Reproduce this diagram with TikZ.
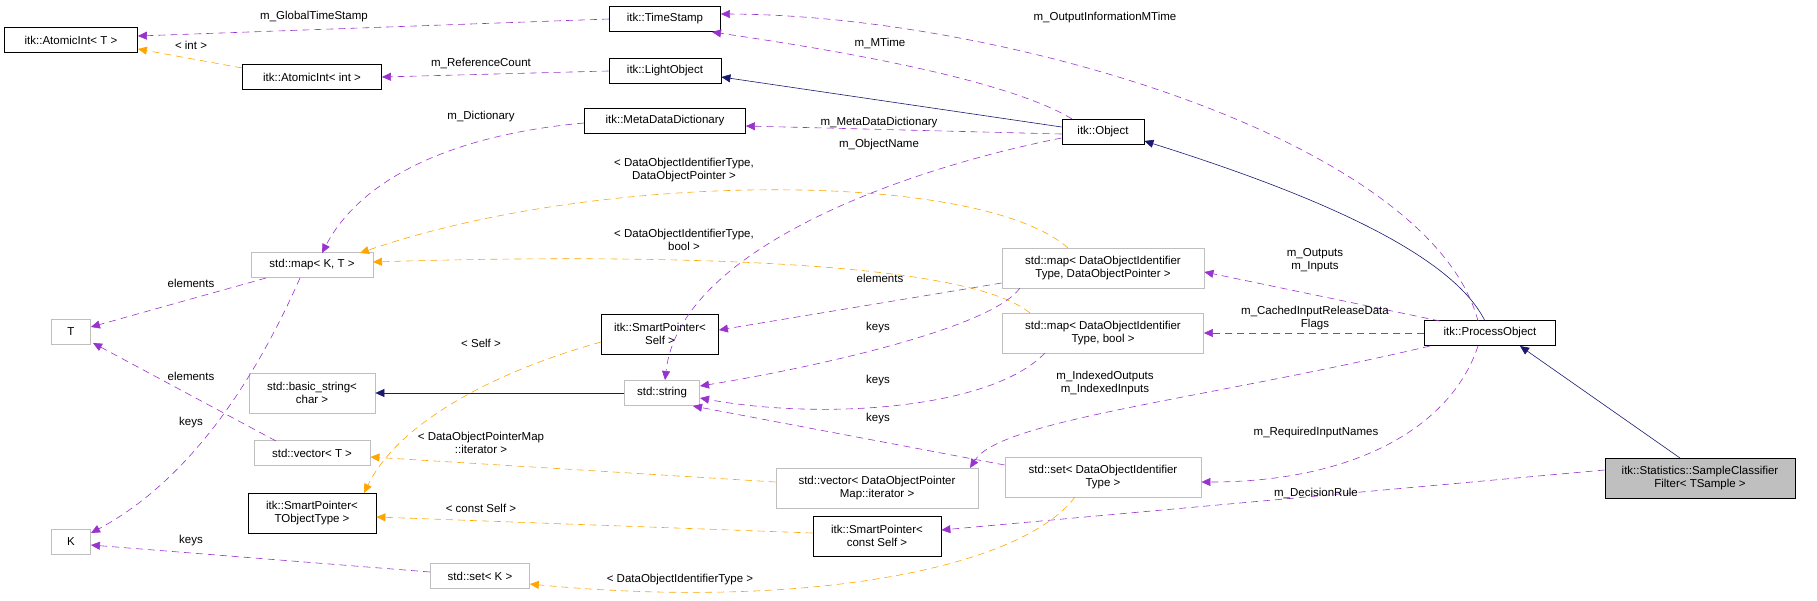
\documentclass[tikz,border=0pt]{standalone}
\usepackage{fontspec}
\setmainfont{Liberation Sans}
\usetikzlibrary{arrows.meta}
\definecolor{pur}{HTML}{9A32CD}
\definecolor{org}{HTML}{FFA500}
\definecolor{nav}{HTML}{191970}
\definecolor{gbd}{HTML}{BFBFBF}
\begin{document}
\begin{tikzpicture}[x=1pt,y=-1pt,
  every node/.style={font=\fontsize{11.5}{13}\selectfont},
  cls/.style={draw=black,thick,inner sep=2pt,align=center,minimum height=25},
  gcls/.style={draw=gbd,thick,inner sep=2pt,align=center,minimum height=25},
  lbl/.style={align=center,inner sep=0pt},
  tip/.style={-{Triangle[length=9pt,width=8pt]}},
  use/.style={tip,draw=pur,fill=none,dash pattern=on 7pt off 5pt,semithick,arrows={-{Triangle[length=9pt,width=8pt,fill=pur]}}},
  tmpl/.style={tip,draw=org,dash pattern=on 7pt off 5pt,semithick,arrows={-{Triangle[length=9pt,width=8pt,fill=org]}}},
  inh/.style={tip,draw=nav,semithick,arrows={-{Triangle[length=9pt,width=8pt,fill=nav]}}}]
\useasboundingbox (0,0) rectangle (1817,600);
% nodes
\node[cls,minimum width=133] (ait) at (71,40) {itk::AtomicInt< T >};
\node[cls,minimum width=139] (aii) at (312,77) {itk::AtomicInt< int >};
\node[cls,minimum width=111] (ts) at (665,19) {itk::TimeStamp};
\node[cls,minimum width=112] (lo) at (665,71) {itk::LightObject};
\node[cls,minimum width=161] (mdd) at (665,121) {itk::MetaDataDictionary};
\node[gcls,minimum width=122] (mkt) at (312,265) {std::map< K, T >};
\node[gcls,minimum width=39] (t) at (71,332) {T};
\node[cls,minimum width=117,minimum height=40] (sps) at (660,334) {itk::SmartPointer<\\Self >};
\node[gcls,minimum width=126,minimum height=40] (bs) at (312,393) {std::basic\_string<\\char >};
\node[gcls,minimum width=75] (str) at (662,393) {std::string};
\node[gcls,minimum width=116] (vt) at (312,453) {std::vector< T >};
\node[cls,minimum width=128,minimum height=40] (spt) at (312,513) {itk::SmartPointer<\\TObjectType >};
\node[gcls,minimum width=39] (k) at (71,542) {K};
\node[gcls,minimum width=99] (sk) at (480,576) {std::set< K >};
\node[cls,minimum width=82] (obj) at (1103,132) {itk::Object};
\node[gcls,minimum width=202,minimum height=40] (mdop) at (1103,268) {std::map< DataObjectIdentifier\\Type, DataObjectPointer >};
\node[gcls,minimum width=201,minimum height=40] (mb) at (1103,333) {std::map< DataObjectIdentifier\\Type, bool >};
\node[cls,minimum width=131] (po) at (1490,333) {itk::ProcessObject};
\node[gcls,minimum width=202,minimum height=40] (vdop) at (877,488) {std::vector< DataObjectPointer\\Map::iterator >};
\node[gcls,minimum width=196,minimum height=40] (sdoi) at (1103,477) {std::set< DataObjectIdentifier\\Type >};
\node[cls,minimum width=128,minimum height=40] (spc) at (877,536) {itk::SmartPointer<\\const Self >};
\node[cls,fill=gbd,minimum width=190,minimum height=40] (sc) at (1700,478) {itk::Statistics::SampleClassifier\\Filter< TSample >};
% edges
\draw[use] (ts.west) -- (ait.east |- 0,36);
\draw[tmpl] (aii.west |- 0,68) -- (ait.east |- 0,49);
\draw[use] (lo.west) -- (aii.east);
\draw[inh] (obj.west |- 0,127) -- (lo.east |- 0,77);
\draw[use] (1072,119) .. controls (1000,75) and (800,45) .. (712,32);
\draw[use] (obj.west |- 0,134) -- (mdd.east |- 0,126);
\draw[use] (mdd.west |- 0,123) .. controls (450,135) and (360,180) .. (322,253);
\draw[tmpl] (1068,248) .. controls (980,170) and (600,170) .. (360,253);
\draw[tmpl] (1030,313) .. controls (960,255) and (600,255) .. (373,262);
\draw[use] (266,278) -- (t.east |- 0,327);
\draw[use] (300,278) .. controls (255,380) and (190,480) .. (91,533);
\draw[use] (276,441) -- (93,343);
\draw[use] (sk.west |- 0,572) -- (k.east |- 0,545);
\draw[tmpl] (sps.west |- 0,342) .. controls (500,370) and (400,420) .. (364,493);
\draw[tmpl] (vdop.west |- 0,482) -- (vt.east |- 0,457);
\draw[tmpl] (spc.west |- 0,533) -- (spt.east |- 0,517);
\draw[tmpl] (1075,497) .. controls (1020,570) and (800,610) .. (sk.east |- 0,584);
\draw[inh] (str.west) -- (bs.east);
\draw[use] (obj.west |- 0,138) .. controls (900,170) and (680,250) .. (665,380);
\draw[use] (mdop.west |- 0,283) -- (sps.east |- 0,330);
\draw[use] (1020,288) .. controls (990,330) and (800,370) .. (700,386);
\draw[use] (1045,353) .. controls (990,410) and (820,420) .. (700,398);
\draw[use] (sdoi.west |- 0,465) -- (693,406);
\draw[inh] (1485,321) .. controls (1450,250) and (1300,190) .. (obj.east |- 0,141);
\draw[use] (1478,321) .. controls (1430,140) and (1000,15) .. (ts.east |- 0,14);
\draw[use] (1440,321) -- (mdop.east |- 0,272);
\draw[use] (po.west) -- (mb.east);
\draw[use] (1430,346) .. controls (1200,400) and (1000,420) .. (970,468);
\draw[use] (1478,346) .. controls (1450,430) and (1350,482) .. (sdoi.east |- 0,482);
\draw[inh] (1680,458) -- (1520,346);
\draw[use] (sc.west |- 0,470) -- (spc.east |- 0,530);
% labels
\node[lbl] (l1) at (314,17) {m\_GlobalTimeStamp};
\node[lbl] (l2) at (191,45) {< int >};
\node[lbl] (l3) at (481,63) {m\_ReferenceCount};
\node[lbl] (l4) at (481,117) {m\_Dictionary};
\node[lbl] (l5) at (684,170) {< DataObjectIdentifierType,\\DataObjectPointer >};
\node[lbl] (l6) at (684,240) {< DataObjectIdentifierType,\\bool >};
\node[lbl] (l7) at (191,283) {elements};
\node[lbl] (l8) at (191,376) {elements};
\node[lbl] (l9) at (191,423) {keys};
\node[lbl] (l10) at (191,541) {keys};
\node[lbl] (l11) at (481,343) {< Self >};
\node[lbl] (l12) at (481,443) {< DataObjectPointerMap\\::iterator >};
\node[lbl] (l13) at (481,508) {< const Self >};
\node[lbl] (l14) at (680,580) {< DataObjectIdentifierType >};
\node[lbl] (l15) at (880,43) {m\_MTime};
\node[lbl] (l16) at (1105,18) {m\_OutputInformationMTime};
\node[lbl] (l17) at (879,123) {m\_MetaDataDictionary};
\node[lbl] (l18) at (879,145) {m\_ObjectName};
\node[lbl] (l19) at (880,278) {elements};
\node[lbl] (l20) at (1315,260) {m\_Outputs\\m\_Inputs};
\node[lbl] (l21) at (1315,318) {m\_CachedInputReleaseData\\Flags};
\node[lbl] (l22) at (878,328) {keys};
\node[lbl] (l23) at (878,381) {keys};
\node[lbl] (l24) at (878,419) {keys};
\node[lbl] (l25) at (1105,383) {m\_IndexedOutputs\\m\_IndexedInputs};
\node[lbl] (l26) at (1316,433) {m\_RequiredInputNames};
\node[lbl] (l27) at (1316,493) {m\_DecisionRule};
\end{tikzpicture}
\end{document}
